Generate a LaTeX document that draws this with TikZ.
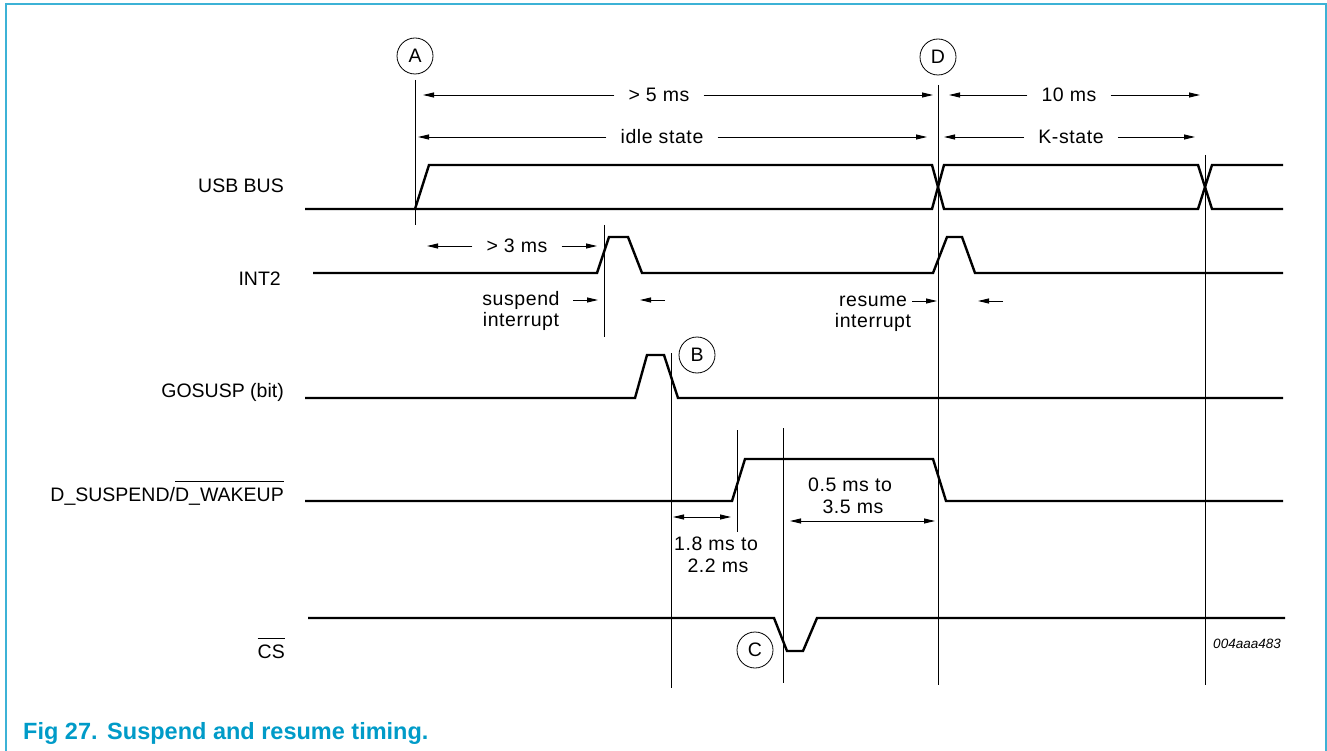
\documentclass[tikz,border=0pt]{standalone}
\usepackage{fontspec}
\setmainfont{Liberation Sans}
\usetikzlibrary{arrows.meta}
\definecolor{nxpblue}{RGB}{0,155,200}
\definecolor{framecol}{RGB}{60,178,214}
\newcommand\ovl[1]{\leavevmode\vbox{\hrule height 1pt\kern 5.5pt\hbox{#1}}}
\tikzset{
  sig/.style={line width=2.4pt},
  vref/.style={line width=0.8pt},
  dimtip/.style={-{Triangle[length=11pt,width=5pt]}, line width=0.9pt},
  dimboth/.style={{Triangle[length=11pt,width=5pt]}-{Triangle[length=11pt,width=5pt]}, line width=0.9pt},
  lab/.style={anchor=base east, inner sep=0pt},
  ann/.style={font=\fontsize{19.5}{21}\selectfont\addfontfeature{LetterSpace=3}, inner xsep=14pt, inner ysep=0pt},
  annb/.style={font=\fontsize{19.5}{21}\selectfont\addfontfeature{LetterSpace=3}, inner sep=0pt, anchor=base},
  circ/.style={draw, circle, minimum size=36pt, inner sep=0pt, line width=0.8pt},
}
\begin{document}
\begin{tikzpicture}[x=1pt,y=-1pt, font=\fontsize{19.5}{23}\selectfont]
\useasboundingbox (0,0) rectangle (1327,751);
\draw[framecol, line width=1.6pt] (6,751) -- (6,4) -- (1326,4) -- (1326,751);

% signal labels
\node[lab] (lusb) at (284,193) {USB BUS};
\node[lab] (lint) at (281,285) {INT2};
\node[lab] (lgo) at (284,397) {GOSUSP (bit)};
\node[lab] (lds) at (284,501) {D\_SUSPEND/\ovl{D\_WAKEUP}};
\node[lab] (lcs) at (285,658) {\ovl{CS}};

% waveforms
\draw[sig] (305,209) -- (415,209) -- (429,165) -- (932,165) -- (944,209) -- (1198,209) -- (1212,165) -- (1283,165);
\draw[sig] (415,209) -- (932,209) -- (944,165) -- (1198,165) -- (1212,209) -- (1283,209);
\draw[sig] (313,273) -- (597,273) -- (609,237) -- (628,237) -- (642,273) -- (933,273) -- (947,237) -- (962,237) -- (975,273) -- (1283,273);
\draw[sig] (305,398) -- (635,398) -- (647,355) -- (664,355) -- (678,398) -- (1283,398);
\draw[sig] (305,501) -- (732,501) -- (745,459) -- (933,459) -- (946,501) -- (1283,501);
\draw[sig] (308,618) -- (774,618) -- (787,651) -- (803,651) -- (817,618) -- (1285,618);

% markers
\node[circ] (A) at (415,56) {A};
\node[circ] (D) at (938,57) {D};
\node[circ] (B) at (697,355) {B};
\node[circ] (C) at (755,650) {C};

% vertical reference lines
\draw[vref] (415,80) -- (415,225);
\draw[vref] (938,85) -- (938,685);
\draw[vref] (1205,155) -- (1205,685);
\draw[vref] (604,225) -- (604,337);
\draw[vref] (671,353) -- (671,688);
\draw[vref] (737,430) -- (737,532);
\draw[vref] (783,428) -- (783,683);

% dimension arrows with text
\node[ann] (t5) at (659,95) {> 5 ms};
\coordinate (t5l) at (423,95); \coordinate (t5r) at (933,95);
\draw[dimtip] (t5.west |- t5l) -- (t5l);
\draw[dimtip] (t5.east |- t5r) -- (t5r);

\node[ann] (tidle) at (662,137) {idle state};
\coordinate (til) at (418,137); \coordinate (tir) at (927,137);
\draw[dimtip] (tidle.west |- til) -- (til);
\draw[dimtip] (tidle.east |- tir) -- (tir);

\node[ann] (t10) at (1069,95) {10 ms};
\coordinate (t10l) at (949,95); \coordinate (t10r) at (1200,95);
\draw[dimtip] (t10.west |- t10l) -- (t10l);
\draw[dimtip] (t10.east |- t10r) -- (t10r);

\node[ann] (tk) at (1071,137) {K-state};
\coordinate (tkl) at (944,137); \coordinate (tkr) at (1195,137);
\draw[dimtip] (tk.west |- tkl) -- (tkl);
\draw[dimtip] (tk.east |- tkr) -- (tkr);

\node[ann] (t3) at (517,246) {> 3 ms};
\coordinate (t3l) at (427,246); \coordinate (t3r) at (597,246);
\draw[dimtip] (t3.west |- t3l) -- (t3l);
\draw[dimtip] (t3.east |- t3r) -- (t3r);

% suspend interrupt
\node[annb] (su1) at (521,305) {suspend};
\node[annb] (su2) at (521,326) {interrupt};
\coordinate (sua) at (573,300); \coordinate (sub) at (598,300);
\draw[dimtip] (sua) -- (sub);
\coordinate (suc) at (665,300); \coordinate (sud) at (640,300);
\draw[dimtip] (suc) -- (sud);

% resume interrupt
\node[annb] (re1) at (873,306) {resume};
\node[annb] (re2) at (873,327) {interrupt};
\coordinate (rea) at (912,301); \coordinate (reb) at (937,301);
\draw[dimtip] (rea) -- (reb);
\coordinate (rec) at (1003,301); \coordinate (red) at (978,301);
\draw[dimtip] (rec) -- (red);

% 1.8 ms to 2.2 ms
\coordinate (w1) at (673,517); \coordinate (w2) at (731,517);
\draw[dimboth] (w1) -- (w2);
\node[annb] (w3) at (716,550) {1.8 ms to};
\node[annb] (w4) at (718,572) {2.2 ms};

% 0.5 ms to 3.5 ms
\coordinate (v1) at (790,521); \coordinate (v2) at (935,521);
\draw[dimboth] (v1) -- (v2);
\node[annb] (v3) at (850,491) {0.5 ms to};
\node[annb] (v4) at (853,513) {3.5 ms};

% id
\node[anchor=base east, inner sep=0pt, font=\fontsize{13.5}{16}\selectfont\itshape] (id) at (1281,648) {004aaa483};

% caption
\node[anchor=base west, inner sep=0pt, text=nxpblue, font=\fontsize{23.5}{28}\selectfont\bfseries] (cap) at (23,739) {Fig 27.\hspace{9.6pt}Suspend and resume timing.};
\end{tikzpicture}
\end{document}
